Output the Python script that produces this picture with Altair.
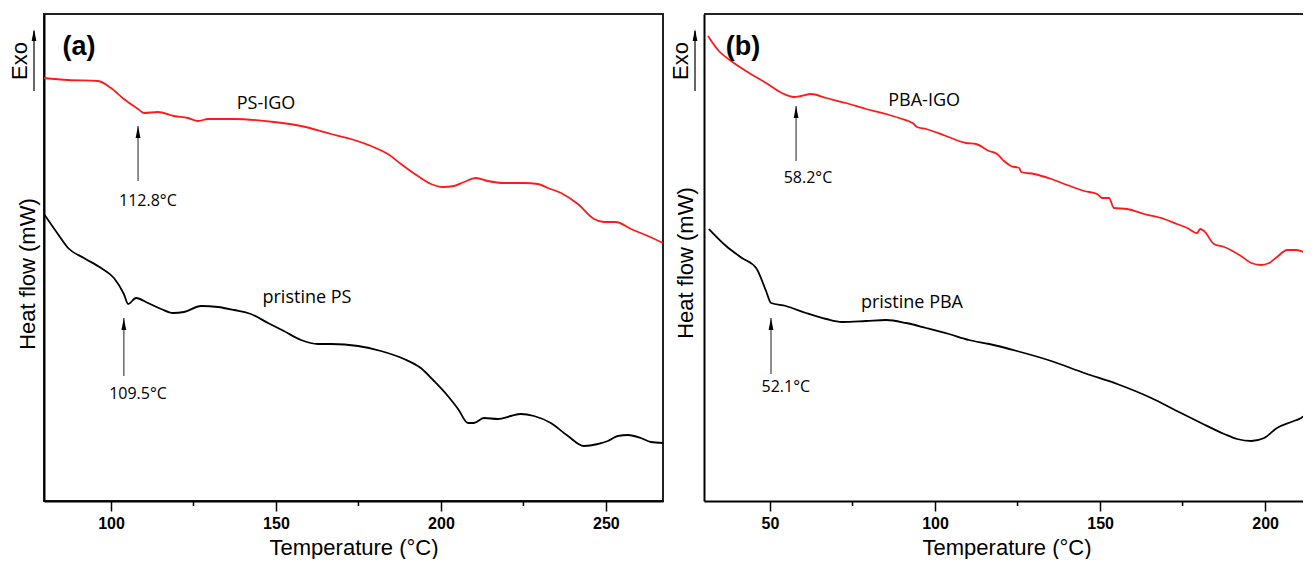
import altair as alt
import pandas as pd

# ---------------- Panel (a): PS samples ----------------
a_igo_t = [79.7, 87.0, 96.1, 100.0, 103.9, 108.2, 110.0, 114.2, 119.1, 123.3, 126.4, 129.4, 137.3, 149.4,
           157.6, 166.7, 172.7, 178.8, 183.9, 187.9, 193.0, 197.0, 200.6, 203.9, 207.0, 210.6, 214.2, 219.1,
           225.2, 229.4, 232.4, 236.4, 241.5, 246.4, 249.4, 253.0, 257.6, 262.7, 267.3]
a_igo_hf = [423, 421, 420, 413, 402, 392, 388, 389, 385, 383, 380, 382, 382, 379, 375, 367, 362, 355, 347,
            337, 325, 317, 314, 315, 319, 323, 320, 318, 318, 317, 313, 308, 297, 282, 279, 279, 272, 265, 258]

a_ps_t = [79.7, 83.9, 87.0, 91.8, 97.0, 100.9, 103.9, 105.2, 107.6, 111.2, 115.2, 118.8, 122.1, 127.3, 132.4,
          137.3, 142.4, 147.6, 152.4, 157.6, 162.7, 166.7, 174.9, 181.8, 188.8, 193.9, 197.9, 202.1, 205.2,
          208.2, 210.0, 213.0, 217.3, 221.2, 224.2, 228.2, 233.3, 238.5, 243.3, 247.6, 250.6, 253.6, 256.7,
          260.6, 263.6, 267.3]
a_ps_hf = [287, 267, 253, 243, 233, 223, 207, 197, 203, 198, 192, 188, 189, 195, 194, 191, 187, 178, 170, 161,
           157, 157, 155, 150, 142, 133, 120, 105, 92, 78, 78, 83, 82, 85, 87, 85, 78, 65, 55, 57, 60, 65, 66,
           63, 59, 58]

a_label_text = ["PS-IGO", "112.8°C", "pristine PS", "109.5°C"]
a_label_t = [147.0, 111.2, 159.4, 108.2]
a_label_hf = [397, 300, 203, 107]
a_label_size = [18, 16, 18, 16]
a_arrow_t = [108.2, 103.9]
a_arrow_low = [320, 125]
a_arrow_high = [375, 183]
a_tag = ("(a)", 90.3, 454)
a_domain = [79.7, 267.3]
a_major = [100, 150, 200, 250]
a_minor = [125, 175, 225]

# ---------------- Panel (b): PBA samples ----------------
b_igo_t = [31.2, 34.5, 38.2, 42.7, 48.8, 53.6, 57.3, 59.4, 62.4, 67.0, 73.0, 79.1, 85.2, 89.1, 93.6, 94.5,
           97.3, 103.3, 109.4, 112.4, 116.4, 118.8, 120.9, 123.0, 125.5, 126.1, 130.0, 135.2, 140.0, 145.2,
           149.1, 150.6, 152.7, 154.2, 158.2, 163.3, 169.4, 173.3, 176.4, 179.4, 180.3, 181.5, 184.5, 187.6,
           192.7, 195.8, 198.8, 201.2, 203.6, 206.7, 209.4, 213.6]
b_igo_hf = [465, 450, 440, 430, 418, 408, 404, 405, 407, 403, 398, 392, 387, 383, 377, 374, 372, 365, 358, 357,
            350, 347, 340, 335, 333, 329, 327, 322, 316, 310, 307, 303, 303, 293, 292, 287, 282, 277, 273, 268,
            272, 270, 257, 254, 245, 238, 236, 238, 244, 251, 251, 246]

b_pba_t = [31.5, 36.7, 41.5, 45.8, 48.8, 50.3, 54.8, 60.9, 67.0, 71.8, 79.1, 85.2, 91.2, 97.3, 104.2, 110.3,
           116.4, 124.8, 135.2, 145.2, 155.2, 165.5, 173.3, 180.6, 187.6, 191.5, 195.8, 199.7, 203.6, 207.9,
           210.9, 213.6]
b_pba_hf = [272, 255, 243, 233, 210, 198, 195, 188, 182, 179, 180, 181, 178, 173, 167, 161, 157, 150, 140, 128,
            117, 103, 90, 78, 67, 62, 60, 63, 73, 79, 83, 90]

b_label_text = ["PBA-IGO", "58.2°C", "pristine PBA", "52.1°C"]
b_label_t = [96.7, 61.5, 93.0, 54.8]
b_label_hf = [400, 323, 198, 114]
b_label_size = [18, 16, 18, 16]
b_arrow_t = [57.9, 50.3]
b_arrow_low = [340, 127]
b_arrow_high = [395, 183]
b_tag = ("(b)", 41.8, 454)
b_domain = [30.0, 213.3]
b_major = [50, 100, 150, 200]
b_minor = [75, 125, 175]

PH = 487
HEAD = "M0,-1L-0.4,1L0.4,1Z"
RED = "#ff1a1a"


def panel(width, domain, majors, minors, igo_t, igo_hf, pr_t, pr_hf,
          lab_text, lab_t, lab_hf, lab_size, ar_t, ar_low, ar_high, tag,
          exo_x, exo_arrow_x, title_x, title_y, right_border):
    xs = alt.Scale(domain=domain, nice=False, zero=False)
    ys = alt.Scale(domain=[0, PH], nice=False, zero=False)
    xax = alt.Axis(values=majors, title="Temperature (°C)", titleFont="Liberation Sans", titleFontSize=22,
                   titleFontWeight="normal", titleColor="black", titlePadding=6,
                   labelFont="Liberation Sans", labelFontSize=16, labelFontWeight="bold", labelColor="black",
                   labelPadding=4, tickSize=10, tickColor="black", tickWidth=1.5,
                   domainColor="black", domainWidth=2, grid=False, labelFlush=False)
    yax = alt.Axis(labels=False, ticks=False, title=None, domainColor="black", domainWidth=2, grid=False)
    X = alt.X("t:Q", scale=xs, axis=xax)
    Y = alt.Y("hf:Q", scale=ys, axis=yax)

    one = alt.Data(values=[{}])

    igo = alt.Chart(pd.DataFrame({"t": igo_t, "hf": igo_hf})).mark_line(
        color=RED, strokeWidth=1.8, interpolate="monotone", clip=True).encode(x=X, y=Y)
    pr = alt.Chart(pd.DataFrame({"t": pr_t, "hf": pr_hf})).mark_line(
        color="black", strokeWidth=1.8, interpolate="monotone", clip=True).encode(x=X, y=Y)

    labels = alt.Chart(pd.DataFrame({"t": lab_t, "hf": lab_hf, "label": lab_text, "size": lab_size})).mark_text(
        font="Open Sans", color="black", align="center", baseline="middle").encode(
        x=X, y=Y, text="label:N", size=alt.Size("size:Q", scale=None, legend=None))

    arrows_df = pd.DataFrame({"t": ar_t, "hf": ar_low, "hf2": ar_high})
    shafts = alt.Chart(arrows_df).mark_rule(color="#444444", strokeWidth=1.2).encode(
        x=X, y=Y, y2="hf2:Q")
    heads = alt.Chart(arrows_df).mark_point(shape=HEAD, size=144, filled=True, color="black",
                                           opacity=1, yOffset=6).encode(
        x=X, y=alt.Y("hf2:Q", scale=ys, axis=yax))

    tagc = alt.Chart(pd.DataFrame({"t": [tag[1]], "hf": [tag[2]], "label": [tag[0]]})).mark_text(
        font="Liberation Sans", fontWeight="bold", fontSize=27, color="black",
        align="center", baseline="middle").encode(x=X, y=Y, text="label:N")

    minor = alt.Chart(pd.DataFrame({"t": minors})).mark_rule(color="black", strokeWidth=1.5).encode(
        x=X, y=alt.value(PH), y2=alt.value(PH + 5))

    exo = alt.Chart(one).mark_text(text="Exo", font="Liberation Sans", fontSize=22, angle=270,
                                   color="black", align="center", baseline="middle").encode(
        x=alt.value(exo_x), y=alt.value(47))
    exo_shaft = alt.Chart(one).mark_rule(color="black", strokeWidth=1.2).encode(
        x=alt.value(exo_arrow_x), y=alt.value(17), y2=alt.value(77))
    exo_head = alt.Chart(one).mark_point(shape=HEAD, size=144, filled=True, color="black", opacity=1,
                                         yOffset=6).encode(x=alt.value(exo_arrow_x), y=alt.value(15))
    ytitle = alt.Chart(one).mark_text(text="Heat flow (mW)", font="Liberation Sans", fontSize=22, angle=270,
                                      color="black", align="center", baseline="middle").encode(
        x=alt.value(title_x), y=alt.value(title_y))

    layers = [igo, pr, shafts, heads, labels, tagc, minor, exo, exo_shaft, exo_head, ytitle]
    if right_border:
        view = alt.ViewBackground(stroke="#222222", strokeWidth=2, fill="white")
    else:
        top = alt.Chart(one).mark_rule(color="#222222", strokeWidth=2).encode(
            x=alt.value(0), x2=alt.value(width), y=alt.value(0))
        layers.append(top)
        view = alt.ViewBackground(stroke="transparent", fill="white")
    return alt.layer(*layers).properties(width=width, height=PH, view=view)


pa = panel(619, a_domain, a_major, a_minor, a_igo_t, a_igo_hf, a_ps_t, a_ps_hf,
           a_label_text, a_label_t, a_label_hf, a_label_size, a_arrow_t, a_arrow_low, a_arrow_high, a_tag,
           exo_x=-24, exo_arrow_x=-10, title_x=-16, title_y=260, right_border=True)
pb = panel(605, b_domain, b_major, b_minor, b_igo_t, b_igo_hf, b_pba_t, b_pba_hf,
           b_label_text, b_label_t, b_label_hf, b_label_size, b_arrow_t, b_arrow_low, b_arrow_high, b_tag,
           exo_x=-23, exo_arrow_x=-9, title_x=-18, title_y=249, right_border=False)

chart = alt.hconcat(pa, pb, spacing=5).properties(
    padding={"left": 0, "top": 4, "right": -8, "bottom": 0},
    background="white",
).configure_view(stroke="#222222")

chart.save("out.html", embed_options={"renderer": "svg", "actions": False})
